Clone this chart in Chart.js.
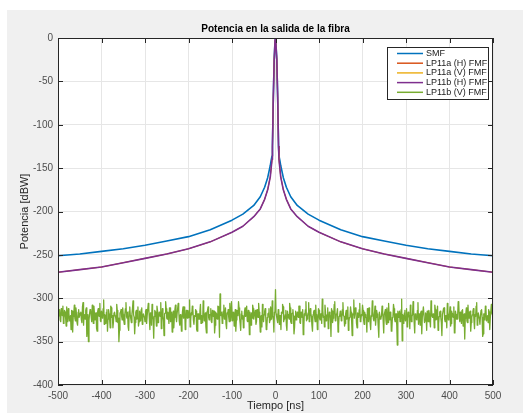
<!DOCTYPE html>
<html>
<head>
<meta charset="utf-8">
<script src="https://cdn.jsdelivr.net/npm/chart.js@4.4.0/dist/chart.umd.min.js"></script>
<style>
  html, body { margin: 0; padding: 0; background: #fff; }
  #wrap { width: 523px; height: 416px; }
</style>
</head>
<body>
<div id="wrap"><canvas id="fibra-chart" width="523" height="416"></canvas></div>
<script>
// ==== data ====
var seriesNames = ['SMF', 'LP11a (H) FMF', 'LP11a (V) FMF', 'LP11b (H) FMF', 'LP11b (V) FMF'];
var seriesColors = ['#0072BD', '#D95319', '#EDB120', '#7E2F8E', '#77AC30'];

// time samples for the smooth curves [ns]
var tCurve = [-500, -450, -400, -350, -300, -250, -200, -150, -100, -75, -50, -35, -25, -18, -12, -10, -8, -7, -5, -3, -1, 0,
              1, 3, 5, 7, 8, 10, 12, 18, 25, 35, 50, 75, 100, 150, 200, 250, 300, 350, 400, 450, 500];

var smfPower = [-251, -249, -246, -243, -239, -234, -229, -221, -210, -203, -193, -183, -172, -161, -147, -141, -136, -125, -68, -25, -2, 0,
                -2, -25, -68, -125, -136, -141, -147, -161, -172, -183, -193, -203, -210, -221, -229, -234, -239, -243, -246, -249, -251];

var lp11Power = [-270, -267, -264, -259, -254, -249, -243, -235, -224, -217, -206, -197, -186, -175, -160, -150, -140, -125, -68, -25, -2, 0,
                 -2, -25, -68, -125, -140, -150, -160, -175, -186, -197, -206, -217, -224, -235, -243, -249, -254, -259, -264, -267, -270];

// LP11b (V): noise floor, samples every 2.5 ns from -500 to 500 ...
var noiseStart = -500, noiseStep = 2.5;
var noisePower = [
  -300,-318,-325,-312,-320,-329,-314,-322,-310,-327,-317,-323,-336,-315,-321,-308,-326,-319,-331,-313,
  -322,-316,-328,-305,-319,-324,-311,-333,-350,-318,-314,-327,-320,-309,-325,-317,-338,-312,-321,-326,
  -315,-323,-302,-319,-329,-313,-324,-318,-334,-311,-320,-327,-316,-322,-307,-328,-350,-317,-313,-325,
  -319,-330,-312,-321,-316,-337,-310,-324,-318,-303,-322,-328,-314,-320,-332,-315,-326,-311,-323,-318,
  -327,-313,-320,-306,-324,-317,-331,-319,-346,-314,-322,-309,-328,-316,-321,-335,-312,-325,-318,-304,
  -323,-316,-329,-311,-320,-339,-315,-322,-308,-327,-318,-313,-331,-320,-325,-310,-319,-336,-314,-323,
  -317,-302,-326,-319,-312,-330,-321,-315,-338,-318,-324,-307,-320,-328,-313,-322,-333,-316,-310,-325,
  -319,-327,-314,-321,-340,-316,-323,-309,-318,-295,-320,-329,-315,-324,-311,-335,-318,-322,-306,-326,
  -316,-321,-332,-313,-325,-318,-304,-323,-337,-315,-320,-328,-311,-319,-326,-314,-342,-321,-317,-308,
  -324,-318,-330,-313,-322,-316,-339,-320,-307,-327,-315,-321,-334,-318,-312,-325,-319,-303,-323,-316,
  -290,-321,-328,-314,-320,-336,-317,-310,-324,-319,-331,-315,-322,-306,-327,-318,-313,-341,-320,-325,
  -316,-322,-309,-329,-318,-313,-335,-320,-304,-324,-317,-327,-312,-321,-338,-316,-323,-308,-319,-330,
  -314,-325,-318,-301,-322,-333,-316,-320,-311,-328,-319,-344,-315,-323,-307,-326,-318,-312,-332,-320,
  -317,-324,-305,-321,-329,-314,-319,-337,-322,-310,-326,-318,-302,-323,-315,-334,-320,-313,-327,-319,
  -308,-325,-316,-322,-339,-317,-311,-328,-320,-303,-324,-318,-331,-314,-321,-345,-316,-323,-309,-326,
  -319,-313,-330,-320,-306,-325,-317,-336,-321,-312,-327,-318,-354,-322,-315,-324,-301,-319,-329,-314,
  -321,-333,-316,-323,-308,-327,-319,-312,-340,-320,-325,-305,-318,-331,-315,-322,-310,-328,-317,-337,
  -320,-314,-326,-303,-321,-318,-334,-313,-324,-309,-329,-316,-322,-343,-319,-311,-327,-320,-306,-325,
  -317,-332,-315,-321,-310,-338,-319,-324,-304,-322,-316,-329,-313,-320,-347,-318,-326,-308,-323,-315,
  -328,-319,-312,-335,-321,-305,-324,-317,-330,-314,-322,-341,-318,-309,-326,-320,-313,-336,-323,-317,
  -298
];
// ... and the samples half way between them (1.25 ns later)
var noisePowerMid = [
  -321,-313,-327,-318,-309,-324,-316,-332,-319,-312,-326,-320,-314,-339,-318,-323,-311,-328,-316,-322,
  -317,-325,-310,-331,-320,-314,-344,-319,-326,-313,-321,-308,-329,-317,-323,-335,-315,-320,-306,-327,
  -318,-312,-330,-321,-316,-338,-313,-325,-309,-322,-334,-317,-320,-327,-314,-323,-337,-316,-321,-311,
  -326,-318,-305,-323,-333,-315,-320,-328,-312,-319,-341,-316,-324,-310,-327,-319,-313,-330,-318,-322,
  -315,-329,-320,-312,-336,-318,-307,-325,-321,-316,-332,-314,-323,-318,-305,-328,-320,-343,-317,-312,
  -324,-319,-311,-327,-316,-322,-334,-313,-321,-318,-306,-326,-319,-338,-315,-323,-310,-329,-320,-314,
  -322,-333,-317,-309,-325,-320,-313,-336,-318,-324,-315,-329,-321,-303,-326,-317,-340,-314,-322,-319,
  -312,-328,-320,-315,-331,-318,-324,-310,-345,-319,-316,-325,-308,-322,-330,-317,-313,-327,-321,-304,
  -326,-316,-322,-338,-314,-320,-311,-329,-318,-324,-334,-315,-321,-309,-327,-319,-316,-331,-323,-312,
  -320,-314,-327,-318,-306,-325,-321,-333,-316,-319,-312,-336,-322,-317,-328,-310,-324,-320,-339,-315,
  -318,-325,-313,-330,-320,-316,-307,-327,-322,-314,-337,-319,-324,-311,-329,-317,-321,-334,-315,-323,
  -320,-309,-328,-316,-322,-342,-318,-313,-326,-320,-305,-324,-317,-331,-319,-314,-327,-321,-336,-312,
  -323,-318,-329,-314,-321,-308,-326,-319,-335,-316,-322,-312,-328,-320,-304,-325,-317,-339,-321,-315,
  -326,-313,-320,-332,-318,-324,-310,-327,-321,-316,-343,-319,-323,-311,-329,-317,-322,-306,-325,-320,
  -314,-330,-319,-323,-312,-327,-318,-336,-321,-315,-326,-309,-322,-318,-333,-316,-324,-320,-313,-340,
  -319,-325,-311,-328,-320,-316,-338,-322,-307,-324,-318,-331,-315,-321,-327,-313,-349,-320,-317,-326,
  -312,-323,-319,-335,-316,-321,-304,-328,-318,-324,-314,-330,-320,-317,-341,-322,-310,-326,-319,-315,
  -327,-318,-333,-313,-322,-320,-308,-325,-317,-337,-321,-315,-328,-319,-312,-324,-320,-334,-316,-323,
  -310,-329,-318,-322,-340,-315,-324,-319,-306,-327,-320,-314,-332,-318,-323,-311,-328,-321,-316,-338,
  -322,-315,-326,-319,-309,-331,-317,-324,-320,-313,-344,-318,-325,-312,-321,-328,-316,-323,-307,-319
];

var xTicks = [-500, -400, -300, -200, -100, 0, 100, 200, 300, 400, 500];
var yTicks = [0, -50, -100, -150, -200, -250, -300, -350, -400];

function pts(xs, ys) {
  return ys.map(function (v, i) { return { x: xs[i], y: v }; });
}
var noisePts = [];
noisePower.forEach(function (v, i) {
  var t = noiseStart + i * noiseStep;
  noisePts.push({ x: t, y: v });
  if (i < noisePowerMid.length) noisePts.push({ x: t + noiseStep / 2, y: noisePowerMid[i] });
});

var FONT = '"Liberation Sans", Arial, Helvetica, sans-serif';

// ==== background, box, inner ticks, titles, legend ====
var matlabLook = {
  id: 'matlabLook',
  beforeDraw: function (chart) {
    var c = chart.ctx, a = chart.chartArea;
    c.save();
    c.fillStyle = '#ffffff';
    c.fillRect(0, 0, chart.width, chart.height);
    c.fillStyle = '#f0f0f0';
    c.fillRect(7, 10, chart.width - 7, 403);
    c.fillStyle = '#ffffff';
    c.fillRect(a.left, a.top, a.right - a.left, a.bottom - a.top);
    c.restore();
  },
  afterDraw: function (chart) {
    var c = chart.ctx, a = chart.chartArea;
    var sx = chart.scales.x, sy = chart.scales.y;
    c.save();
    c.strokeStyle = '#262626';
    c.lineWidth = 1;
    c.strokeRect(a.left + 0.5, a.top + 0.5, a.right - a.left - 1, a.bottom - a.top - 1);
    c.beginPath();
    xTicks.forEach(function (t) {
      var px = Math.round(sx.getPixelForValue(t)) + 0.5;
      c.moveTo(px, a.bottom); c.lineTo(px, a.bottom - 5);
      c.moveTo(px, a.top); c.lineTo(px, a.top + 5);
    });
    yTicks.forEach(function (t) {
      var py = Math.round(sy.getPixelForValue(t)) + 0.5;
      c.moveTo(a.left, py); c.lineTo(a.left + 5, py);
      c.moveTo(a.right, py); c.lineTo(a.right - 5, py);
    });
    c.stroke();

    // titles
    var cx = (a.left + a.right) / 2;
    c.fillStyle = '#000000';
    c.textAlign = 'center';
    c.textBaseline = 'middle';
    c.font = 'bold 10px ' + FONT;
    c.fillText('Potencia en la salida de la fibra', cx, 29);
    c.fillStyle = '#262626';
    c.font = '11px ' + FONT;
    c.fillText('Tiempo [ns]', cx, 406);
    c.translate(25, (a.top + a.bottom) / 2);
    c.rotate(-Math.PI / 2);
    c.fillText('Potencia [dBW]', 0, 0);
    c.restore();

    // legend
    c.save();
    var lx = 387, ly = 47, lw = 101, lh = 52;
    c.fillStyle = '#ffffff';
    c.fillRect(lx, ly, lw, lh);
    c.strokeStyle = '#262626';
    c.lineWidth = 1;
    c.strokeRect(lx + 0.5, ly + 0.5, lw, lh);
    c.font = '9px ' + FONT;
    c.textAlign = 'left';
    c.textBaseline = 'middle';
    chart.data.datasets.forEach(function (ds, i) {
      var yy = ly + 6.5 + i * 9.7;
      c.strokeStyle = ds.borderColor;
      c.lineWidth = 1.5;
      c.beginPath();
      c.moveTo(lx + 10, yy); c.lineTo(lx + 36, yy);
      c.stroke();
      c.fillStyle = '#1a1a1a';
      c.fillText(ds.label, lx + 39, yy);
    });
    c.restore();
  }
};

var ctx = document.getElementById('fibra-chart').getContext('2d');

var fibraChart = new Chart(ctx, {
  type: 'line',
  data: {
    datasets: [
      { label: seriesNames[0], data: pts(tCurve, smfPower), borderColor: seriesColors[0], borderWidth: 1.6, order: 5 },
      { label: seriesNames[1], data: pts(tCurve, lp11Power), borderColor: seriesColors[1], borderWidth: 0.8, order: 4 },
      { label: seriesNames[2], data: pts(tCurve, lp11Power), borderColor: seriesColors[2], borderWidth: 0.8, order: 3 },
      { label: seriesNames[3], data: pts(tCurve, lp11Power), borderColor: seriesColors[3], borderWidth: 1.6, order: 2 },
      { label: seriesNames[4], data: noisePts, borderColor: seriesColors[4], borderWidth: 1.3, order: 1 }
    ]
  },
  options: {
    responsive: false,
    animation: false,
    events: [],
    elements: { point: { radius: 0 }, line: { tension: 0, borderJoinStyle: 'round' } },
    layout: { padding: { top: 38, right: 30, left: 0, bottom: 0 } },
    plugins: { legend: { display: false }, title: { display: false }, tooltip: { enabled: false } },
    scales: {
      x: {
        type: 'linear', min: -500, max: 500,
        afterFit: function (s) { s.height = 31; },
        afterBuildTicks: function (s) { s.ticks = xTicks.map(function (v) { return { value: v }; }); },
        ticks: { color: '#4d4d4d', font: { family: FONT, size: 10 }, padding: 5, maxRotation: 0, autoSkip: false },
        grid: { color: '#e6e6e6', drawTicks: false },
        border: { display: false }
      },
      y: {
        type: 'linear', min: -400, max: 0,
        afterFit: function (s) { s.width = 58; },
        afterBuildTicks: function (s) { s.ticks = yTicks.map(function (v) { return { value: v }; }); },
        ticks: { color: '#4d4d4d', font: { family: FONT, size: 10 }, padding: 5 },
        grid: { color: '#e6e6e6', drawTicks: false },
        border: { display: false }
      }
    }
  },
  plugins: [matlabLook]
});
</script>
</body>
</html>
